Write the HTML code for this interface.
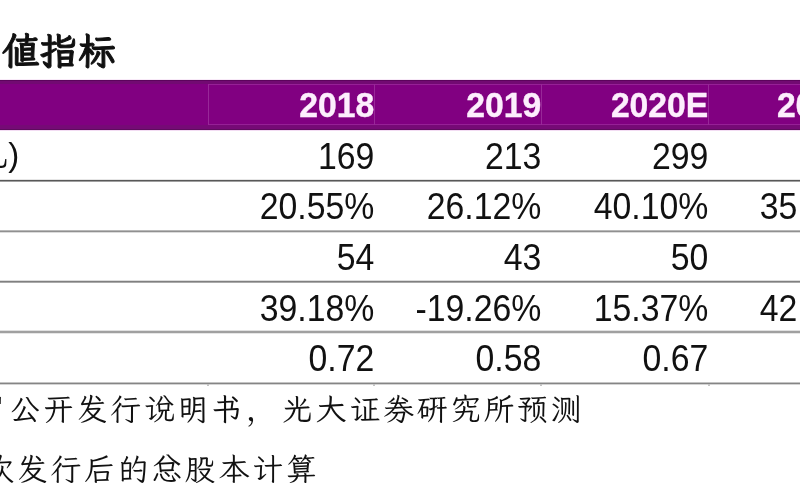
<!DOCTYPE html>
<html lang="zh-CN">
<head>
<meta charset="utf-8">
<title>估值指标</title>
<style>
html,body{margin:0;padding:0;background:#fff;}
body{width:800px;height:500px;position:relative;overflow:hidden;font-family:"Liberation Sans","Noto Sans CJK SC",sans-serif;color:#111;}
.abs{position:absolute;white-space:nowrap;}
.title{left:2px;top:29px;font-family:"Liberation Serif","LXGW WenKai TC","Noto Serif CJK SC",serif;font-weight:bold;font-size:38px;line-height:44px;color:#111;-webkit-text-stroke:1.05px #111;}
.band{left:0;top:80px;width:800px;height:50px;background:#810081;}
.band .d0{position:absolute;left:0;top:-1px;width:800px;height:1px;background:#f8eaf8;}
.band .d1{position:absolute;left:0;top:0;width:800px;height:4px;background:#720a72;border-top:1px solid #5c045c;box-sizing:border-box;}
.band .l1{position:absolute;left:208px;top:4px;width:592px;height:1px;background:#962096;}
.band .l2{position:absolute;left:208px;top:44px;width:592px;height:1px;background:#962096;}
.band .d2{position:absolute;left:0;top:45px;width:800px;height:5px;background:#760a76;border-bottom:1px solid #5e0c5e;box-sizing:border-box;}
.band .d3{position:absolute;left:0;top:50px;width:800px;height:1px;background:#f3dcf3;}
.band .v{position:absolute;top:4px;width:1px;height:41px;background:#982898;}
.hd{top:85px;height:40px;line-height:40px;font-weight:bold;font-size:33.7px;color:#fdeefd;-webkit-text-stroke:0.4px #fdeefd;text-align:right;transform:scaleY(1.04);transform-origin:50% 50%;}
.num{height:50px;line-height:50px;font-size:33.8px;color:#111;text-align:right;transform:scaleY(1.065);transform-origin:50% 50%;}
.yclip{left:0;top:159px;width:9px;height:12px;overflow:hidden;}
.yuan{left:-24px;top:-24.5px;font-family:"Liberation Serif","LXGW WenKai TC","Noto Serif CJK SC",serif;font-size:33px;line-height:40px;color:#111;}
.paren{left:8.2px;top:134.5px;font-size:33px;line-height:40px;color:#111;}
.tk{top:384px;width:2px;height:2px;background:#c4c4c4;}
.sliver{left:0;top:396px;width:3px;height:8px;overflow:hidden;}
.c1{left:208px;width:166.3px;}
.c2{left:375px;width:166.3px;}
.c3{left:542px;width:166.3px;}
.c4{left:708px;width:166.3px;}
.ln{left:0;width:800px;height:1px;}
.note{font-family:"Liberation Serif","LXGW WenKai TC","Noto Serif CJK SC",serif;font-size:31px;letter-spacing:2.6px;line-height:40px;color:#111;}
.note .p{font-family:"Liberation Serif","Noto Serif CJK SC",serif;margin-left:1.5px;margin-right:2.4px;}
</style>
</head>
<body>
<div class="abs title">值指标</div>

<div class="abs band"><div class="d0"></div><div class="d1"></div><div class="l1"></div><div class="l2"></div><div class="d2"></div><div class="d3"></div>
<div class="v" style="left:208px"></div><div class="v" style="left:374px"></div><div class="v" style="left:541px"></div><div class="v" style="left:708px"></div></div>
<div class="abs hd c1">2018</div>
<div class="abs hd c2">2019</div>
<div class="abs hd c3">2020E</div>
<div class="abs hd c4">2021E</div>

<div class="abs yclip"><div class="abs yuan">元</div></div><div class="abs paren">)</div>
<div class="abs num c1" style="top:131px">169</div>
<div class="abs num c2" style="top:131px">213</div>
<div class="abs num c3" style="top:131px">299</div>

<div class="abs num c1" style="top:181.1px">20.55%</div>
<div class="abs num c2" style="top:181.1px">26.12%</div>
<div class="abs num c3" style="top:181.1px">40.10%</div>
<div class="abs num c4" style="top:181.1px">35.12%</div>

<div class="abs num c1" style="top:232px">54</div>
<div class="abs num c2" style="top:232px">43</div>
<div class="abs num c3" style="top:232px">50</div>

<div class="abs num c1" style="top:283.3px">39.18%</div>
<div class="abs num c2" style="top:283.3px">-19.26%</div>
<div class="abs num c3" style="top:283.3px">15.37%</div>
<div class="abs num c4" style="top:283.3px">42.10%</div>

<div class="abs num c1" style="top:333.3px">0.72</div>
<div class="abs num c2" style="top:333.3px">0.58</div>
<div class="abs num c3" style="top:333.3px">0.67</div>

<div class="abs ln" style="top:179px;background:#e6e6e6"></div>
<div class="abs ln" style="top:180px;background:#585858"></div>
<div class="abs ln" style="top:181px;background:#a0a0a0"></div>

<div class="abs ln" style="top:230px;background:#b8b8b8"></div>
<div class="abs ln" style="top:231px;background:#909090"></div>
<div class="abs ln" style="top:232px;background:#dcdcdc"></div>

<div class="abs ln" style="top:280px;background:#dcdcdc"></div>
<div class="abs ln" style="top:281px;background:#808080"></div>
<div class="abs ln" style="top:282px;background:#aaaaaa"></div>

<div class="abs ln" style="top:330px;background:#e0e0e0"></div>
<div class="abs ln" style="top:331px;background:#a0a0a0"></div>
<div class="abs ln" style="top:332px;background:#a0a0a0"></div>
<div class="abs ln" style="top:333px;background:#e6e6e6"></div>

<div class="abs ln" style="top:382px;background:#c4c4c4"></div>
<div class="abs ln" style="top:383px;background:#858585"></div>
<div class="abs ln" style="top:384px;background:#d4d4d4"></div>

<div class="abs tk" style="left:207px"></div><div class="abs tk" style="left:373px"></div><div class="abs tk" style="left:540px"></div><div class="abs tk" style="left:708px"></div>
<div class="abs sliver"><div class="abs note" style="left:-25.6px;top:-6px;">司</div></div>
<div class="abs note" style="left:9.4px;top:390px;">公开发行说明书<span class="p">，</span>光大证券研究所预测</div>
<div class="abs note" style="left:-16.75px;top:450px;">次发行后的总股本计算</div>
</body>
</html>
